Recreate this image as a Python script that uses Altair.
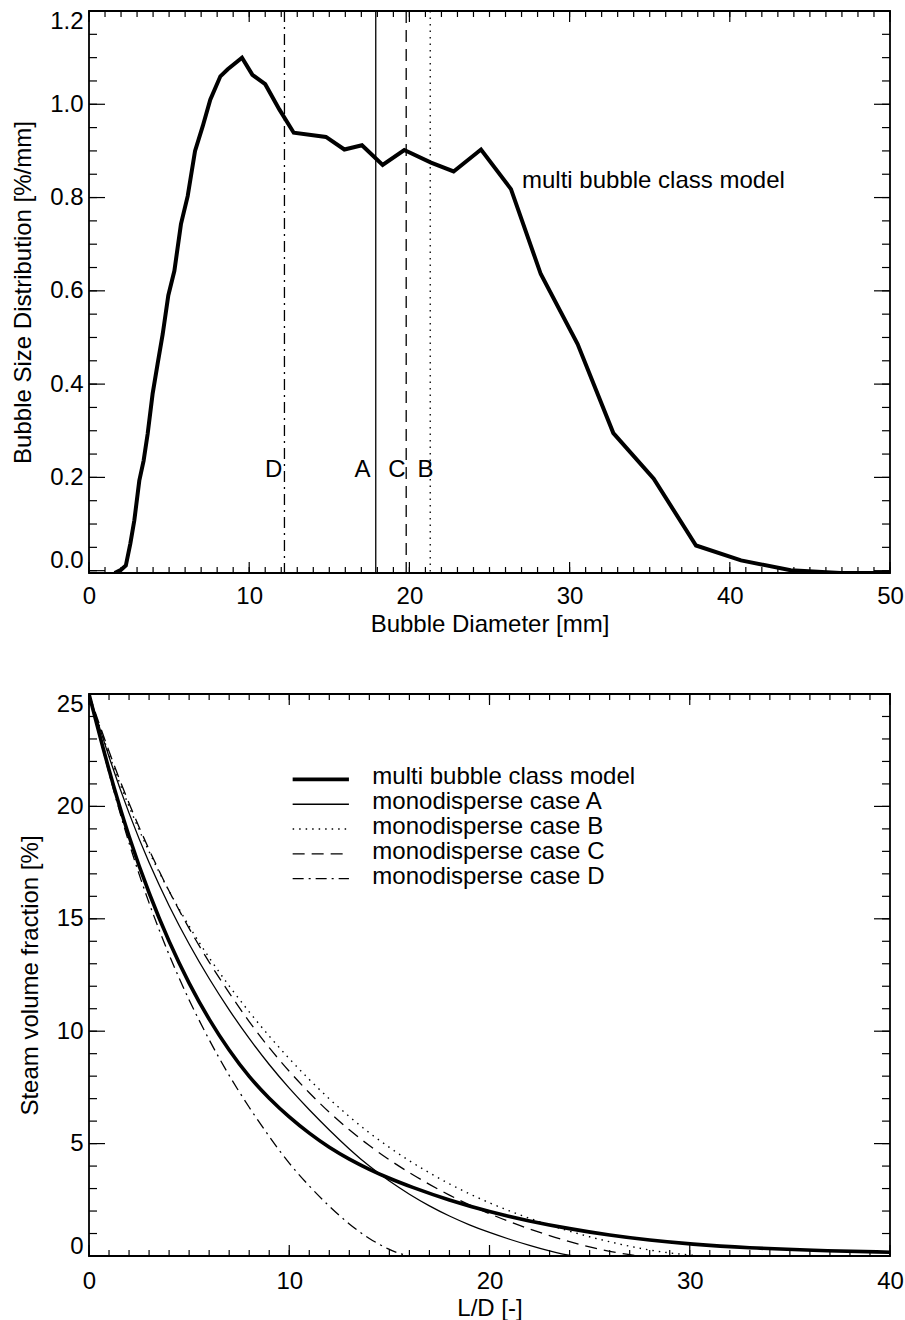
import altair as alt
import pandas as pd

FONT = "Liberation Sans"
FS = 24

# ---------------- upper panel: bubble size distribution ----------------
diameter = [1.6, 2.0, 2.3, 2.58, 2.83, 3.14, 3.41, 3.66, 3.97, 4.28,
            4.6, 4.95, 5.33, 5.74, 6.16, 6.62, 7.1, 7.57, 8.2, 8.66,
            9.55, 10.2, 11.0, 11.88, 12.78, 14.79, 15.94, 17.04, 18.33, 19.68,
            21.35, 22.76, 24.47, 26.34, 28.2, 30.5, 32.73, 35.25, 37.89, 40.7,
            43.8, 46.9, 50.0]
distribution = [-0.005, 0.002, 0.011, 0.058, 0.108, 0.193, 0.236, 0.293, 0.379, 0.443,
                0.507, 0.59, 0.643, 0.743, 0.803, 0.90, 0.953, 1.01, 1.06, 1.075,
                1.10, 1.063, 1.043, 0.989, 0.939, 0.93, 0.903, 0.912, 0.87, 0.902,
                0.875, 0.856, 0.903, 0.818, 0.636, 0.486, 0.295, 0.197, 0.054, 0.022,
                0.001, -0.005, -0.005]

# bubble diameters of the monodisperse cases
case_names = ["A", "B", "C", "D"]
case_diameter = [17.9, 21.3, 19.8, 12.2]

# ---------------- lower panel: steam volume fraction along the pipe ----------------
ld_multi = [0, 1, 2, 3, 4, 5, 6, 7, 8, 9, 10, 11, 12, 13, 14, 15, 16,
            18, 20, 22, 24, 26, 28, 30, 33, 36, 40]
vf_multi = [25.0, 21.55, 18.6, 16.1, 13.95, 12.1, 10.5, 9.13, 7.95, 7.0, 6.17, 5.45,
            4.82, 4.3, 3.85, 3.45, 3.1, 2.47, 1.96, 1.55, 1.21, 0.92, 0.70, 0.53,
            0.36, 0.25, 0.17]

ld_a = [0, 1, 2, 3, 4, 5, 6, 7, 8, 9, 10, 11, 12, 13, 14, 15, 16, 17, 18,
        19, 20, 21, 22, 23, 23.7, 24.2]
vf_a = [25.0, 22.15, 19.65, 17.45, 15.55, 13.85, 12.32, 10.93, 9.66, 8.5, 7.45,
        6.5, 5.6, 4.75, 3.98, 3.32, 2.74, 2.22, 1.77, 1.38, 1.04, 0.74, 0.47,
        0.22, 0.07, 0.0]

ld_b = [0, 1, 2, 3, 4, 5, 6, 7, 8, 9, 10, 11, 12, 13, 14, 15, 16, 17, 18,
        19, 20, 21, 22, 23, 24, 25, 26, 27, 28, 29, 30, 30.6]
vf_b = [25.0, 22.25, 19.95, 17.95, 16.2, 14.65, 13.25, 12.0, 10.85, 9.77, 8.77,
        7.84, 6.98, 6.19, 5.47, 4.82, 4.23, 3.69, 3.2, 2.76, 2.36, 2.0, 1.67,
        1.37, 1.1, 0.85, 0.63, 0.43, 0.26, 0.13, 0.04, 0.0]

ld_c = [0, 1, 2, 3, 4, 5, 6, 7, 8, 9, 10, 11, 12, 13, 14, 15, 16, 17, 18,
        19, 20, 21, 22, 23, 24, 25, 26, 27, 27.5]
vf_c = [25.0, 22.4, 20.1, 18.05, 16.2, 14.55, 13.05, 11.7, 10.4, 9.25, 8.2,
        7.25, 6.38, 5.6, 4.9, 4.27, 3.7, 3.18, 2.7, 2.27, 1.88, 1.52, 1.2, 0.9,
        0.63, 0.4, 0.2, 0.06, 0.0]

ld_d = [0, 1, 2, 3, 4, 5, 6, 7, 8, 9, 10, 11, 12, 13, 14, 15, 15.5, 16.0]
vf_d = [25.0, 21.4, 18.3, 15.65, 13.35, 11.35, 9.6, 8.0, 6.6, 5.3, 4.1, 3.1,
        2.2, 1.4, 0.75, 0.28, 0.1, 0.0]

legend_labels = ["multi bubble class model", "monodisperse case A",
                 "monodisperse case B", "monodisperse case C",
                 "monodisperse case D"]

# line styles (width, dash pattern) of the series
STYLE = {
    "multi": dict(strokeWidth=3.6),
    "A": dict(strokeWidth=1.3),
    "B": dict(strokeWidth=1.4, strokeDash=[1.5, 5]),
    "C": dict(strokeWidth=1.3, strokeDash=[12, 7]),
    "D": dict(strokeWidth=1.3, strokeDash=[11, 5, 2, 5]),
}

W, H = 801, 562


def x_axis(values, title, pad, title_y):
    return alt.Axis(values=values, title=title, ticks=False, tickSize=0, domain=False,
                    grid=False, labelPadding=pad, labelFlush=False,
                    titleY=title_y, titleBaseline="alphabetic")


def y_axis(values, title, fmt, title_x, flush):
    return alt.Axis(values=values, title=title, format=fmt, ticks=False, tickSize=0,
                    domain=False, grid=False, labelPadding=6, labelFlush=flush,
                    labelFlushOffset=2, titleX=title_x, titleBaseline="alphabetic",
                    titleAngle=270)


def inward_ticks(X, Y, x_major, x_minor, y_major, y_minor):
    """IDL-style ticks pointing into the plot on all four sides."""
    layers = []
    for vals, ln in ((x_major, 11), (x_minor, 6)):
        base = alt.Chart(pd.DataFrame({"v": vals})).mark_rule(color="black", strokeWidth=1.2)
        layers.append(base.encode(x=X("v"), y=alt.value(H), y2=alt.value(H - ln)))
        layers.append(base.encode(x=X("v"), y=alt.value(0), y2=alt.value(ln)))
    for vals, ln in ((y_major, 16), (y_minor, 8)):
        base = alt.Chart(pd.DataFrame({"v": vals})).mark_rule(color="black", strokeWidth=1.2)
        layers.append(base.encode(y=Y("v"), x=alt.value(0), x2=alt.value(ln)))
        layers.append(base.encode(y=Y("v"), x=alt.value(W), x2=alt.value(W - ln)))
    return layers


def text_layer(df, X, Y, align):
    return alt.Chart(df).mark_text(
        align=align, baseline="alphabetic", font=FONT, fontSize=FS, color="black"
    ).encode(x=X("x"), y=Y("y"), text="t:N")


# ================= upper panel =================
xs1 = alt.Scale(domain=[0, 50], nice=False, zero=False)
ys1 = alt.Scale(domain=[-0.005, 1.2], nice=False, zero=False)
ax1 = x_axis(list(range(0, 51, 10)), "Bubble Diameter [mm]", 11, 58)
ay1 = y_axis([round(0.2 * i, 1) for i in range(7)],
             "Bubble Size Distribution [%/mm]", ".1f", -58.5, 3)


def X1(f):
    return alt.X(f + ":Q", scale=xs1, axis=ax1)


def Y1(f):
    return alt.Y(f + ":Q", scale=ys1, axis=ay1)


dist_df = pd.DataFrame({"d": diameter, "p": distribution})
curve1 = alt.Chart(dist_df).mark_line(color="black", strokeWidth=4, clip=True).encode(
    x=X1("d"), y=Y1("p"))

case_lines = []
for name, dia in zip(case_names, case_diameter):
    kw = dict(color="black", strokeWidth=1.3)
    if "strokeDash" in STYLE[name]:
        kw["strokeDash"] = STYLE[name]["strokeDash"]
    case_lines.append(
        alt.Chart(pd.DataFrame({"d": [dia]})).mark_rule(**kw).encode(x=X1("d")))

# letters beside the vertical lines (centre x, baseline at 0.2)
letter_x = {"A": 17.07, "B": 21.0, "C": 19.22, "D": 11.52}
letters = text_layer(pd.DataFrame({"x": [letter_x[n] for n in case_names],
                                   "y": [0.2] * len(case_names), "t": case_names}),
                     X1, Y1, "center")
note = text_layer(pd.DataFrame({"x": [27.03], "y": [0.821], "t": [legend_labels[0]]}),
                  X1, Y1, "left")

# empty anchor fixing the page offset of the plot frame
anchor = alt.Chart(pd.DataFrame({"k": [0]})).mark_rule(strokeOpacity=0).encode(
    x=alt.value(-88), x2=alt.value(-88), y=alt.value(-10), y2=alt.value(-10))

ticks1 = inward_ticks(X1, Y1, list(range(0, 51, 10)), list(range(0, 51)),
                      [round(0.2 * i, 2) for i in range(7)],
                      [round(0.05 * i, 2) for i in range(25)])

top = alt.layer(*case_lines, curve1, letters, note, *ticks1, anchor).properties(
    width=W, height=H)

# ================= lower panel =================
xs2 = alt.Scale(domain=[0, 40], nice=False, zero=False)
ys2 = alt.Scale(domain=[0, 25], nice=False, zero=False)
ax2 = x_axis(list(range(0, 41, 10)), "L/D [-]", 13, 59)
ay2 = y_axis(list(range(0, 26, 5)), "Steam volume fraction [%]", "d", -51.3, True)


def X2(f):
    return alt.X(f + ":Q", scale=xs2, axis=ax2)


def Y2(f):
    return alt.Y(f + ":Q", scale=ys2, axis=ay2)


series = [("multi", ld_multi, vf_multi), ("A", ld_a, vf_a), ("B", ld_b, vf_b),
          ("C", ld_c, vf_c), ("D", ld_d, vf_d)]

curves2 = []
for name, xv, yv in series:
    df = pd.DataFrame({"l": xv, "f": yv})
    curves2.append(
        alt.Chart(df).mark_line(color="black", interpolate="basis", clip=True,
                                **STYLE[name]).encode(x=X2("l"), y=Y2("f")))

# legend block: sample line + label per row
LEG_X0, LEG_X1, LEG_TX = 10.17, 12.98, 14.15
LEG_TOP, LEG_STEP, LEG_LIFT = 20.98, 1.104, 0.22
legend_layers = []
for i, (name, label) in enumerate(zip([s[0] for s in series], legend_labels)):
    ybase = LEG_TOP - i * LEG_STEP
    seg = pd.DataFrame({"x0": [LEG_X0], "x1": [LEG_X1], "y": [ybase + LEG_LIFT]})
    legend_layers.append(
        alt.Chart(seg).mark_rule(color="black", **STYLE[name]).encode(
            x=X2("x0"), x2="x1:Q", y=Y2("y")))
    legend_layers.append(
        text_layer(pd.DataFrame({"x": [LEG_TX], "y": [ybase], "t": [label]}),
                   X2, Y2, "left"))

ticks2 = inward_ticks(X2, Y2, list(range(0, 41, 10)), list(range(0, 41)),
                      list(range(0, 26, 5)), list(range(0, 26)))

bottom = alt.layer(*curves2, *legend_layers, *ticks2).properties(width=W, height=H)

chart = alt.vconcat(top, bottom, spacing=121, bounds="flush").properties(
    padding=0, background="white"
).configure_axis(
    labelFont=FONT, titleFont=FONT, labelFontSize=FS, titleFontSize=FS,
    labelColor="black", titleColor="black", titleFontWeight="normal",
).configure_view(stroke="black", strokeWidth=1.8)

chart.save("out.html", embed_options={"renderer": "svg", "actions": False})
